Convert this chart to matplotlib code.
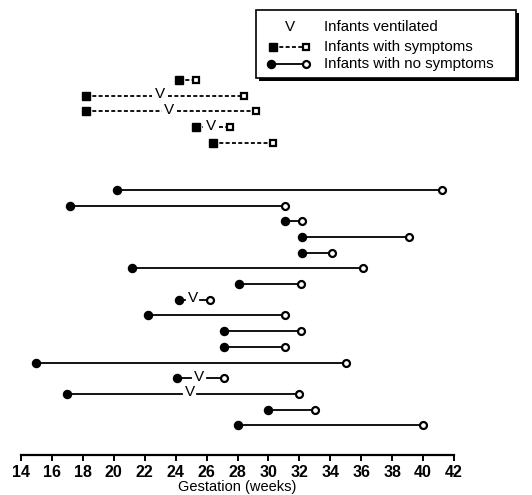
import matplotlib.pyplot as plt
from matplotlib.patches import Rectangle

plt.rcParams['font.family'] = ['Liberation Sans', 'DejaVu Sans']

# Infants with symptoms: onset (filled square) -> resolution (open square)
sym_start = [24.2, 18.2, 18.2, 25.3, 26.4]
sym_end = [25.3, 28.4, 29.2, 27.5, 30.3]
sym_vent = [None, 23.0, 23.6, 26.3, None]

# Infants with no symptoms: filled circle -> open circle
nos_start = [20.2, 17.2, 31.1, 32.2, 32.2, 21.2, 28.1, 24.2, 22.2, 27.1,
             27.1, 15.0, 24.1, 17.0, 30.0, 28.0]
nos_end = [41.2, 31.1, 32.2, 39.1, 34.1, 36.1, 32.1, 26.2, 31.1, 32.1,
           31.1, 35.0, 27.1, 32.0, 33.0, 40.0]
nos_vent = [None, None, None, None, None, None, None, 25.1, None, None,
            None, None, 25.5, 24.9, None, None]

xticks = list(range(14, 43, 2))

W, H = 532, 495
fig = plt.figure(figsize=(W / 100, H / 100), dpi=100)
# axes box: x 14..42 -> px 21..454, bottom spine at px 455
ax = fig.add_axes([21 / W, (H - 455) / H, 433 / W, 455 / H])
row_px = 15.7
ax.set_xlim(14, 42)
ax.set_ylim((455 - 80) / row_px, -80 / row_px)

gap = 0.5


def draw_row(y, x0, x1, v, ls, mk_fill, mk_open):
    if v is None:
        ax.plot([x0, x1], [y, y], color='black', lw=1.3, ls=ls, zorder=1)
    else:
        ax.plot([x0, v - gap], [y, y], color='black', lw=1.3, ls=ls, zorder=1)
        ax.plot([v + gap, x1], [y, y], color='black', lw=1.3, ls=ls, zorder=1)
        ax.text(v, y - 0.1, 'V', ha='center', va='center', fontsize=11)
    ax.plot(x0, y, marker=mk_fill, color='black', ms=5.8, zorder=3)
    ax.plot(x1, y, marker=mk_open, mfc='white', mec='black', mew=1.6,
            ms=5.0, zorder=3)


dash = (0, (2.2, 1.3))
for i in range(len(sym_start)):
    draw_row(i, sym_start[i], sym_end[i], sym_vent[i], dash, 's', 's')

for i in range(len(nos_start)):
    draw_row(i + 7, nos_start[i], nos_end[i], nos_vent[i], '-', 'o', 'o')

for s in ['left', 'right', 'top']:
    ax.spines[s].set_visible(False)
ax.spines['bottom'].set_linewidth(1.6)
ax.set_yticks([])
ax.set_xticks(xticks)
ax.tick_params(axis='x', direction='out', length=4, width=1.4, pad=3,
               labelsize=11.5)
for lab in ax.get_xticklabels():
    lab.set_fontweight('bold')
ax.set_xlabel('Gestation (weeks)', fontsize=10.5, labelpad=0)

# legend box drawn in pixel coordinates
lg = fig.add_axes([0, 0, 1, 1], facecolor='none')
lg.set_xlim(0, W)
lg.set_ylim(H, 0)
lg.axis('off')
lg.add_patch(Rectangle((259, 13), 260, 68, facecolor='black', lw=0))
lg.add_patch(Rectangle((256, 10), 260, 68, facecolor='white',
                       edgecolor='black', lw=1.2))
lg.text(290, 27, 'V', ha='center', va='center', fontsize=11)
lg.plot([273, 306], [47, 47], color='black', lw=1.3, ls=(0, (2.2, 1.3)))
lg.plot(273, 47, marker='s', color='black', ms=5.8)
lg.plot(306, 47, marker='s', mfc='white', mec='black', mew=1.6, ms=5.0)
lg.plot([271, 306], [64, 64], color='black', lw=1.3)
lg.plot(271, 64, marker='o', color='black', ms=5.8)
lg.plot(306, 64, marker='o', mfc='white', mec='black', mew=1.6, ms=5.0)
for ty, txt in zip([27, 47, 64], ['Infants ventilated', 'Infants with symptoms',
                                  'Infants with no symptoms']):
    lg.text(324, ty, txt, ha='left', va='center', fontsize=10.8)

fig.savefig('out.png', dpi=100)
